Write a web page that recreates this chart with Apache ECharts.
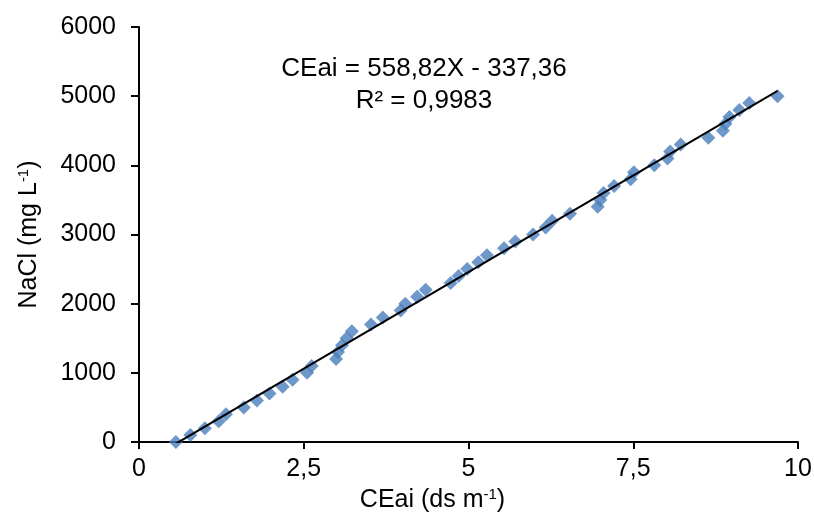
<!DOCTYPE html>
<html><head><meta charset="utf-8">
<script src="https://cdn.jsdelivr.net/npm/echarts@6/dist/echarts.min.js"></script>
<style>html,body{margin:0;padding:0;background:#fff}#c{width:814px;height:513px}</style>
</head><body><div id="c"></div>
<script>
const ceai = [0.56,0.78,1.00,1.21,1.32,1.59,1.79,1.98,2.18,2.33,2.55,2.62,2.99,3.02,3.08,3.15,3.23,3.52,3.70,3.97,4.04,4.22,4.35,4.73,4.85,4.98,5.15,5.28,5.54,5.71,5.98,6.17,6.27,6.54,6.96,7.00,7.05,7.21,7.46,7.51,7.82,8.02,8.06,8.22,8.64,8.86,8.90,8.96,9.11,9.26,9.69];
const nacl = [0,100,200,300,400,500,600,700,800,900,1000,1100,1200,1300,1400,1500,1600,1700,1800,1900,2000,2100,2200,2300,2400,2500,2600,2700,2800,2900,3000,3100,3200,3300,3400,3500,3600,3700,3800,3900,4000,4100,4200,4300,4400,4500,4600,4700,4800,4900,5000];
const slope = 558.82, intercept = -337.36;
const xTicks = ['0','2,5','5','7,5','10'];
const eqText = 'CEai = 558,82X - 337,36';
const r2Text = 'R² = 0,9983';

const pts = ceai.map((x,i)=>[x,nacl[i]]);
const xmin = Math.min(...ceai), xmax = Math.max(...ceai);
const trend = [[xmin, slope*xmin+intercept],[xmax, slope*xmax+intercept]];
const font = 'Liberation Sans, Arial, sans-serif';
const FS = 25;
const rich = {t:{fontSize:FS,fontFamily:font,color:'#000'},s:{fontSize:15,fontFamily:font,color:'#000',verticalAlign:'top',padding:[0,0,12,0]}};
const chart = echarts.init(document.getElementById('c'));
chart.setOption({
  animation:false,
  grid:{left:139,right:16,top:27,bottom:71,containLabel:false,outerBoundsMode:'none'},
  xAxis:{type:'value',min:0,max:10,interval:2.5,
    axisLine:{lineStyle:{color:'#000',width:2}},
    axisTick:{show:true,length:7,lineStyle:{color:'#000',width:2}},
    splitLine:{show:false},
    axisLabel:{color:'#000',fontSize:FS,fontFamily:font,margin:15,
      formatter:(v)=>xTicks[Math.round(v/2.5)]},
    name:'{t|CEai (ds m}{s|-1}{t|)}',nameLocation:'middle',nameGap:41,
    nameTextStyle:{rich:rich,padding:[0,72,0,0]}
  },
  yAxis:{type:'value',min:0,max:6000,interval:1000,
    axisLine:{show:true,lineStyle:{color:'#000',width:2}},
    axisTick:{show:true,length:8,lineStyle:{color:'#000',width:2}},
    splitLine:{show:false},
    axisLabel:{color:'#000',fontSize:FS,fontFamily:font,margin:23,formatter:(v)=>String(v)},
    name:'{t|NaCl (mg L}{s|-1}{t|)}',nameLocation:'middle',nameGap:96,nameRotate:90,
    nameTextStyle:{rich:rich}
  },
  series:[
    {type:'scatter',data:pts,symbol:'diamond',symbolSize:14,itemStyle:{color:'#4A7EBB'},z:2},
    {type:'line',data:trend,symbol:'none',lineStyle:{color:'#000',width:2},z:3,clip:true}
  ],
  graphic:[
    {type:'text',style:{text:eqText,x:424,y:69,fontSize:26,fontFamily:font,fill:'#000',align:'center',verticalAlign:'middle'}},
    {type:'text',style:{text:r2Text,x:424,y:101,fontSize:26,fontFamily:font,fill:'#000',align:'center',verticalAlign:'middle'}}
  ]
});
</script></body></html>
